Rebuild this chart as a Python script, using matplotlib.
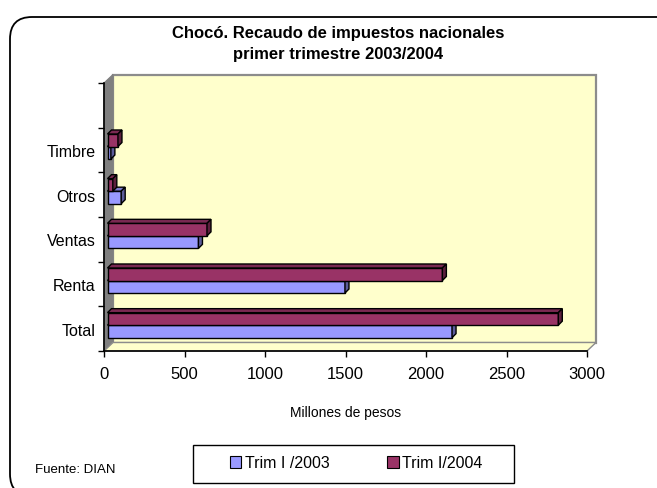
import numpy as np
import matplotlib.pyplot as plt
from matplotlib.patches import Polygon, Patch, FancyBboxPatch, Rectangle

plt.rcParams['font.family'] = ['Liberation Sans', 'DejaVu Sans']

categories = ['Total', 'Renta', 'Ventas', 'Otros', 'Timbre']
trim_2003 = [2140, 1475, 565, 85, 21]
trim_2004 = [2800, 2080, 618, 33, 65]
series_names = ['Trim I /2003', 'Trim I/2004']
series_colors = ['#9999FF', '#993366']
x_ticks = [0, 500, 1000, 1500, 2000, 2500, 3000]

W, H = 657, 489
fig = plt.figure(figsize=(W / 100, H / 100), dpi=100)

# front plane of the 3d box in pixels
left_px, right_px, top_px, bot_px = 104, 587, 84, 352
ax = fig.add_axes([left_px / W, 1 - bot_px / H,
                   (right_px - left_px) / W, (bot_px - top_px) / H])
xmin, xmax = 0, 3000
ymin, ymax = -0.5, len(categories) + 0.5
ax.set_xlim(xmin, xmax)
ax.set_ylim(ymin, ymax)
ax.patch.set_visible(False)

# data units per pixel
px_x = (xmax - xmin) / (right_px - left_px)
px_y = (ymax - ymin) / (bot_px - top_px)

# walls (full depth offset)
wx, wy = 9 * px_x, 8.5 * px_y
back = Polygon([(xmin + wx, ymin + wy), (xmax + wx, ymin + wy),
                (xmax + wx, ymax + wy), (xmin + wx, ymax + wy)],
               closed=True, facecolor='#FFFFCC', edgecolor='#8C8C8C',
               lw=1.6, clip_on=False, zorder=0)
side = Polygon([(xmin, ymin), (xmin, ymax), (xmin + wx, ymax + wy),
                (xmin + wx, ymin + wy)], closed=True, facecolor='#808080',
               edgecolor='#808080', lw=0.8, clip_on=False, zorder=0.5)
floor = Polygon([(xmin, ymin), (xmax, ymin), (xmax + wx, ymin + wy),
                 (xmin + wx, ymin + wy)], closed=True, facecolor='#FFFFCC',
                edgecolor='#8C8C8C', lw=1.0, clip_on=False, zorder=0.5)
for p in [back, side, floor]:
    ax.add_patch(p)

# bars, placed a bit inside the box
ox, oy = 3.5 * px_x, 3.5 * px_y
dx, dy = 4 * px_x, 4 * px_y
bar_h = 0.28
y = np.arange(len(categories))


def shade(c, f):
    rgb = np.array(plt.matplotlib.colors.to_rgb(c))
    return tuple(rgb * f)


for k, (vals, col) in enumerate(zip([trim_2003, trim_2004], series_colors)):
    yc = y + (k - 0.5) * bar_h + oy
    z = 3 + k
    ax.barh(yc, vals, height=bar_h, left=ox, color=col, edgecolor='black',
            lw=1.0, zorder=z, clip_on=False)
    for yy, v in zip(yc, vals):
        yt, yb = yy + bar_h / 2, yy - bar_h / 2
        x1 = ox + v
        top = Polygon([(ox, yt), (x1, yt), (x1 + dx, yt + dy), (ox + dx, yt + dy)],
                      closed=True, facecolor=shade(col, 0.8), edgecolor='black',
                      lw=1.0, zorder=z, clip_on=False)
        rs = Polygon([(x1, yb), (x1 + dx, yb + dy), (x1 + dx, yt + dy), (x1, yt)],
                     closed=True, facecolor=shade(col, 0.6), edgecolor='black',
                     lw=1.0, zorder=z, clip_on=False)
        ax.add_patch(top)
        ax.add_patch(rs)

# axes look
for s in ['top', 'right']:
    ax.spines[s].set_visible(False)
for s in ['left', 'bottom']:
    ax.spines[s].set_linewidth(1.2)
    ax.spines[s].set_zorder(6)
ax.set_xticks(x_ticks)
ax.set_xticklabels([str(t) for t in x_ticks], fontsize=12)
ax.tick_params(axis='x', direction='out', length=4, width=1, pad=7)
ax.set_yticks(np.arange(ymin, ymax + 0.01, 1))
ax.set_yticklabels([])
ax.set_yticks(y, minor=True)
ax.set_yticklabels(categories, minor=True, fontsize=11.5)
ax.tick_params(axis='y', which='major', direction='out', length=4, width=1)
ax.tick_params(axis='y', which='minor', length=0, pad=6)
ax.set_xlabel('Millones de pesos', fontsize=10, labelpad=17)

fig.text(338 / W, 1 - 44 / H,
         'Chocó. Recaudo de impuestos nacionales\nprimer trimestre 2003/2004',
         ha='center', va='center', fontsize=12, fontweight='bold',
         linespacing=1.45)
fig.text(35 / W, 1 - 470 / H, 'Fuente: DIAN', ha='left', va='center',
         fontsize=9.5)

# legend: frame drawn separately so entries stay centred in a wide box
fig.patches.append(Rectangle((193 / W, 1 - 484 / H), 321 / W, 38 / H,
                             transform=fig.transFigure, facecolor='white',
                             edgecolor='black', lw=1.0))
handles = [Patch(facecolor=c, edgecolor='black', lw=0.8) for c in series_colors]
fig.legend(handles, series_names, ncol=2, loc='center',
           bbox_to_anchor=(356 / W, 1 - 464 / H), fontsize=11.5, frameon=False,
           handlelength=0.75, handleheight=0.75, handletextpad=0.2,
           columnspacing=3.6, borderaxespad=0)

# outer rounded border
box = FancyBboxPatch((10, -8), 800, 479, boxstyle='round,pad=0,rounding_size=22',
                     transform=None, facecolor='none', edgecolor='black', lw=1.3)
fig.patches.append(box)

fig.savefig('out.png', dpi=100)
